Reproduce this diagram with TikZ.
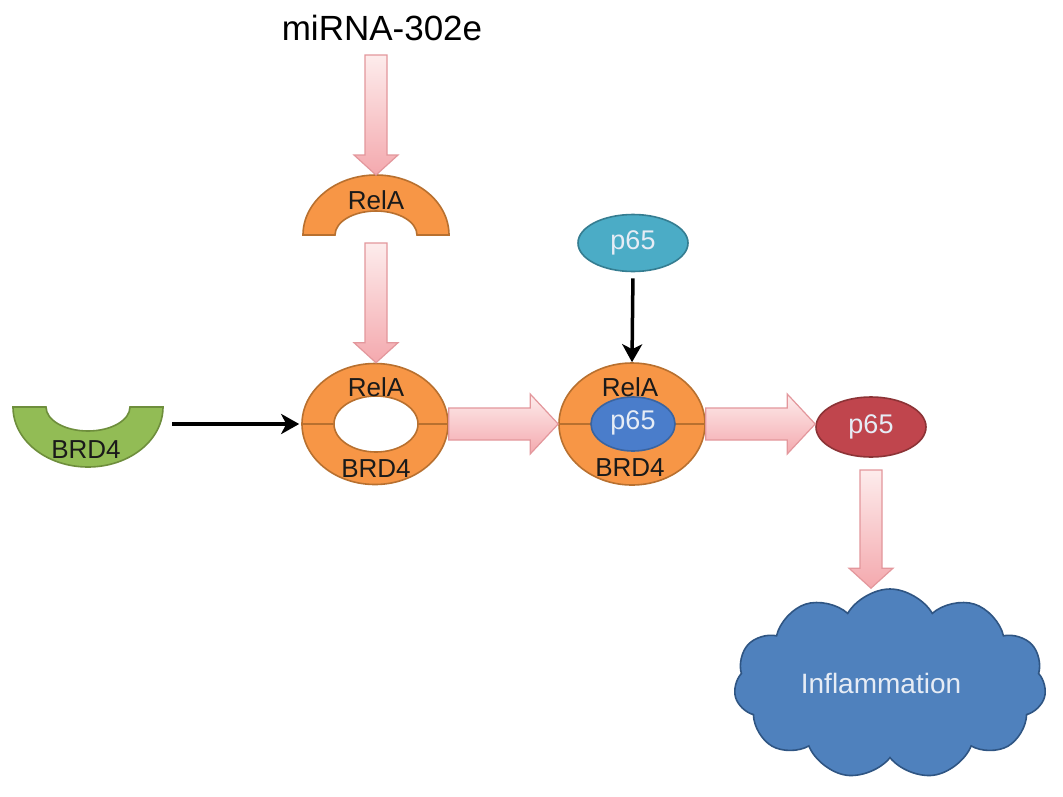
\documentclass[tikz,border=0pt]{standalone}
\usepackage{fontspec}
\setmainfont{Liberation Sans}
\usetikzlibrary{shapes.geometric,shapes.symbols,arrows.meta,calc}
\definecolor{orfill}{HTML}{F79646}
\definecolor{oredge}{HTML}{B8702F}
\definecolor{grfill}{HTML}{92BC55}
\definecolor{gredge}{HTML}{6E8E3C}
\definecolor{tlfill}{HTML}{4BACC6}
\definecolor{tledge}{HTML}{357D91}
\definecolor{blfill}{HTML}{4A7DCB}
\definecolor{bledge}{HTML}{3A64A0}
\definecolor{rdfill}{HTML}{C0454D}
\definecolor{rdedge}{HTML}{8C3336}
\definecolor{clfill}{HTML}{4F81BD}
\definecolor{cledge}{HTML}{2F5583}
\definecolor{pklight}{HTML}{FDECEC}
\definecolor{pkdark}{HTML}{F4A9AE}
\definecolor{pkedge}{HTML}{E3979C}
\definecolor{wtext}{HTML}{E6ECF5}
\definecolor{btext}{HTML}{1A1A1A}
\tikzset{
  fatarrow/.style={draw=pkedge, line width=1.2pt, top color=pklight, bottom color=pkdark},
  blackarrow/.style={draw=black, line width=3.5pt, -{Stealth[length=18pt,width=20pt,inset=5pt]}},
  lbl/.style={font=\fontsize{26}{26}\selectfont, text=btext, inner sep=0pt},
  oval/.style={ellipse, inner sep=0pt, line width=1.6pt},
}
\newcommand\vfatarrow[2]{%
  \path[fatarrow] let \p1=(#1), \p2=(#2) in
    ({\x1-11pt},{\y1}) -- ({\x1+11pt},{\y1}) -- ({\x1+11pt},{\y2+20pt}) --
    ({\x1+22pt},{\y2+20pt}) -- ({\x1},{\y2}) -- ({\x1-22pt},{\y2+20pt}) --
    ({\x1-11pt},{\y2+20pt}) -- cycle;}
\newcommand\hfatarrow[2]{%
  \path[fatarrow] let \p1=(#1), \p2=(#2) in
    ({\x1},{\y1+16pt}) -- ({\x2-28pt},{\y1+16pt}) -- ({\x2-28pt},{\y1+30pt}) --
    ({\x2},{\y1}) -- ({\x2-28pt},{\y1-30pt}) -- ({\x2-28pt},{\y1-16pt}) --
    ({\x1},{\y1-16pt}) -- cycle;}
\begin{document}
\begin{tikzpicture}[x=1pt,y=-1pt]
\useasboundingbox[fill=white] (0,0) rectangle (1063,796);

% title
\node[anchor=base, font=\fontsize{35}{35}\selectfont, inner sep=0pt] (mir) at (382,40) {miRNA-302e};
\coordinate (mirbot) at (376,55);

% RelA half ring (top)
\coordinate (relatop) at (376,175);
\path[fill=orfill, draw=oredge, line width=1.6pt]
  (303,235) arc[start angle=180, end angle=0, x radius=73pt, y radius=60pt]
  -- (417,235) arc[start angle=0, end angle=180, x radius=41pt, y radius=24pt] -- cycle;
\node[lbl] (relalbl) at (376,200) {RelA};
\coordinate (relabot) at (376,243);

% BRD4 half ring (left)
\path[fill=grfill, draw=gredge, line width=1.6pt]
  (13,407) arc[start angle=180, end angle=360, x radius=75pt, y radius=60pt]
  -- (130,407) arc[start angle=0, end angle=-180, x radius=42pt, y radius=24pt] -- cycle;
\node[lbl] (brdlbl) at (86,450) {BRD4};
\coordinate (brdright) at (172,424);

% ring 1
\node[oval, fill=orfill, draw=oredge, minimum width=146pt, minimum height=121pt] (ring1) at (375,424) {};
\node[oval, fill=white, draw=oredge, minimum width=84pt, minimum height=56pt] (hole1) at (376,424) {};
\draw[oredge, line width=1.6pt] (ring1.west) -- (hole1.west) (hole1.east) -- (ring1.east);
\node[lbl] (r1rela) at (376,387) {RelA};
\node[lbl] (r1brd) at (376,469) {BRD4};

% ring 2
\node[oval, fill=orfill, draw=oredge, minimum width=146pt, minimum height=122pt] (ring2) at (632,424) {};
\draw[oredge, line width=1.6pt] (ring2.west) -- (ring2.east);
\node[oval, fill=blfill, draw=bledge, minimum width=84pt, minimum height=54pt] (p65in) at (633,424) {};
\node[font=\fontsize{27}{27}\selectfont, text=wtext, inner sep=0pt] (p65inlbl) at (633,423) {p65};
\node[lbl] (r2rela) at (630,387) {RelA};
\node[lbl] (r2brd) at (630,468) {BRD4};

% top p65
\node[oval, fill=tlfill, draw=tledge, minimum width=110pt, minimum height=57pt, font=\fontsize{27}{27}\selectfont, text=wtext] (p65top) at (633,243) {p65};

% red p65
\node[oval, fill=rdfill, draw=rdedge, minimum width=110pt, minimum height=60pt, font=\fontsize{27}{27}\selectfont, text=wtext] (p65red) at (871,427) {p65};

% cloud
\node[cloud, cloud puffs=11, cloud puff arc=120, aspect=1.7, fill=clfill, draw=cledge, line width=1.6pt,
      minimum width=312pt, minimum height=190pt, inner sep=0pt] (cloud) at (890,684) {};
\node[font=\fontsize{28}{28}\selectfont, text=wtext, inner sep=0pt] (inflbl) at (881,683) {Inflammation};

% pink fat arrows
\vfatarrow{mirbot}{relatop}
\vfatarrow{relabot}{ring1.north}
\hfatarrow{ring1.east}{ring2.west}
\hfatarrow{ring2.east}{p65red.west}
\coordinate (redbot) at (871,470);
\vfatarrow{redbot}{cloud.north}

% black arrows
\draw[blackarrow] (brdright) -- ([xshift=-2pt]ring1.west);
\draw[blackarrow, shorten <=6pt] (p65top.south) -- (ring2.north);
\end{tikzpicture}
\end{document}
